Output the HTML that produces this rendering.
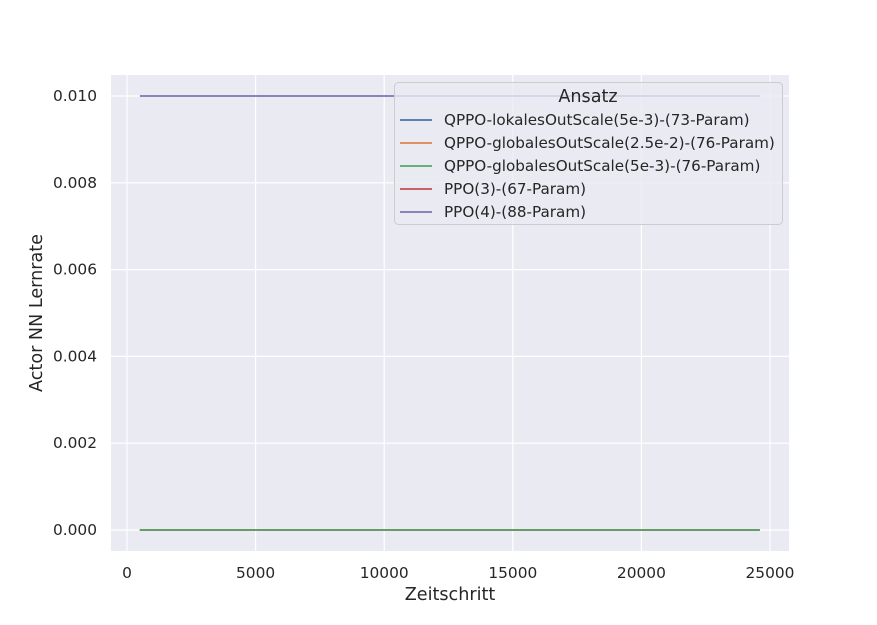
<!DOCTYPE html>
<html><head><meta charset="utf-8"><style>
body{margin:0;background:#fff;font-family:"Liberation Sans","DejaVu Sans",sans-serif;}
svg text{font-family:"DejaVu Sans","Liberation Sans",sans-serif;fill:#262626;}
</style></head><body>
<svg id="chart" width="877" height="620"></svg>
<script>
const xTicks=[0,5000,10000,15000,20000,25000];
const yTicks=[0.000,0.002,0.004,0.006,0.008,0.010];
const seriesNames=["QPPO-lokalesOutScale(5e-3)-(73-Param)","QPPO-globalesOutScale(2.5e-2)-(76-Param)","QPPO-globalesOutScale(5e-3)-(76-Param)","PPO(3)-(67-Param)","PPO(4)-(88-Param)"];
const seriesColors=["#4c72b0","#dd8452","#55a868","#c44e52","#8172b3"];
const stepsX=[500,24600];
const valsS0=[0,0];
const valsS1=[0,0];
const valsS2=[0,0];
const valsS3=[0,0];
const valsS4=[0.01,0.01];
const seriesValues=[valsS0,valsS1,valsS2,valsS3,valsS4];
const drawOrder=[0,1,3,2,4];

const NS="http://www.w3.org/2000/svg";
const svg=document.getElementById('chart');
function mk(t,a,p){const e=document.createElementNS(NS,t);for(const k in a)e.setAttribute(k,a[k]);(p||svg).appendChild(e);return e;}
const L=111,R=789,T=75,B=551;
const sx=v=>127+v*(770-127)/25000;
const sy=v=>530-v*(530-96)/0.01;
const bg=mk('rect',{x:L,y:T,width:R-L,height:B-T,fill:'#eaeaf2'});


xTicks.forEach(t=>{
 const l=mk('line',{x1:sx(t),x2:sx(t),y1:T,y2:B,stroke:'#fff','stroke-width':1.2});
 
 
 const tx=mk('text',{x:sx(t),y:578,'text-anchor':'middle','font-size':15.4});
 tx.textContent=t;
 
 
});
yTicks.forEach(t=>{
 const l=mk('line',{x1:L,x2:R,y1:sy(t),y2:sy(t),stroke:'#fff','stroke-width':1.2});
 
 
 const tx=mk('text',{x:97,y:sy(t)+5,'text-anchor':'end','font-size':15.4});
 tx.textContent=t.toFixed(3);
 
 
});
drawOrder.forEach(i=>{
 const vals=seriesValues[i];
 const pts=vals.map((v,j)=>sx(stepsX[j])+','+sy(v)).join(' ');
 const pl=mk('polyline',{points:pts,fill:'none',stroke:seriesColors[i],'stroke-width':1.8});
 
 
});
const xt=mk('text',{x:450,y:600,'text-anchor':'middle','font-size':17.6});
xt.textContent='Zeitschritt';


const yt=mk('text',{x:0,y:0,'text-anchor':'middle','font-size':17.6,transform:'translate(42,313) rotate(-90)'});
yt.textContent='Actor NN Lernrate';


const lg=mk('g',{});


mk('rect',{x:394.5,y:82.5,width:388,height:142,rx:4,fill:'#eaeaf2','fill-opacity':0.8,stroke:'#cccccc'},lg);
const lt=mk('text',{x:588,y:102,'text-anchor':'middle','font-size':17.6},lg);
lt.textContent='Ansatz';


seriesNames.forEach((n,i)=>{
 const y=120+i*23;
 const e=mk('g',{},lg);
 
 
 mk('line',{x1:400,x2:432,y1:y,y2:y,stroke:seriesColors[i],'stroke-width':1.8},e);
 const t=mk('text',{x:444,y:y+5,'font-size':15.2},e);
 t.textContent=n;
});
</script>
</body></html>
